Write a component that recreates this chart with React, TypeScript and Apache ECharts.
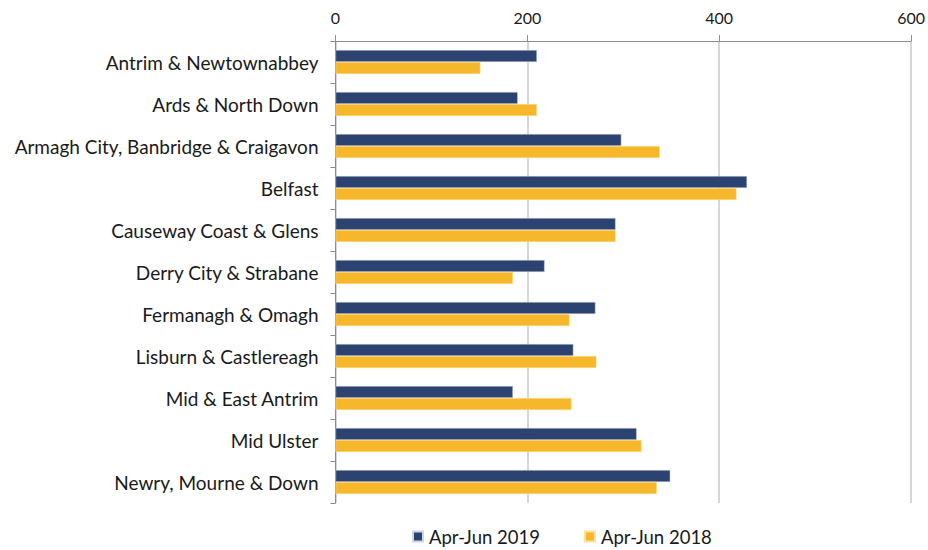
import React, { useEffect, useRef } from "react";
import * as echarts from "echarts";

const categories = [
  "Antrim & Newtownabbey",
  "Ards & North Down",
  "Armagh City, Banbridge & Craigavon",
  "Belfast",
  "Causeway Coast & Glens",
  "Derry City & Strabane",
  "Fermanagh & Omagh",
  "Lisburn & Castlereagh",
  "Mid & East Antrim",
  "Mid Ulster",
  "Newry, Mourne & Down",
];
const series2019 = [210, 190, 298, 429, 292, 218, 271, 248, 185, 314, 349];
const series2018 = [151, 210, 338, 418, 292, 185, 244, 272, 246, 319, 335];
const seriesNames = ["Apr-Jun 2019", "Apr-Jun 2018"];

const FONT = "Lato, sans-serif";

export default function App() {
  const ref = useRef<HTMLDivElement>(null);
  useEffect(() => {
    if (!ref.current) return;
    const chart = echarts.init(ref.current, null, { renderer: "svg" });
    chart.setOption({
      animation: false,
      backgroundColor: "#ffffff",
      textStyle: { fontFamily: FONT },
      grid: { left: 335.5, right: 16, top: 41, bottom: 47, containLabel: false },
      legend: {
        bottom: -1,
        left: 407,
        itemWidth: 10,
        itemHeight: 10,
        itemGap: 44,
        icon: "rect",
        textStyle: { fontSize: 18.5, color: "#1a1a1a", fontFamily: FONT, padding: [0, 0, 0, 1] },
        data: seriesNames,
      },
      xAxis: {
        type: "value",
        position: "top",
        min: 0,
        max: 600,
        interval: 200,
        axisLine: { show: true, lineStyle: { color: "#8c8c8c", width: 1 } },
        axisTick: { show: true, inside: false, length: 6, lineStyle: { color: "#8c8c8c" } },
        axisLabel: { fontSize: 16, color: "#1a1a1a", margin: 16 },
        splitLine: { show: true, lineStyle: { color: "#c8c8c8", width: 1.5 } },
      },
      yAxis: {
        type: "category",
        inverse: true,
        data: categories,
        axisLine: { show: true, lineStyle: { color: "#8c8c8c", width: 1 } },
        axisTick: { show: true, length: 5, lineStyle: { color: "#8c8c8c" } },
        axisLabel: { fontSize: 19, color: "#1a1a1a", margin: 17 },
      },
      series: [
        {
          name: seriesNames[0],
          type: "bar",
          data: series2019,
          barWidth: 12,
          barGap: "0%",
          itemStyle: { color: "#2c4270", borderColor: "#d0d6e4", borderWidth: 0.5 },
        },
        {
          name: seriesNames[1],
          type: "bar",
          data: series2018,
          barWidth: 12,
          barGap: "0%",
          itemStyle: { color: "#f7b72a", borderColor: "#fbe0a0", borderWidth: 0.5 },
        },
      ],
    });
    return () => chart.dispose();
  }, []);
  return (
    <div
      ref={ref}
      style={{ position: "absolute", left: 0, top: 0, width: 928, height: 550 }}
    />
  );
}
